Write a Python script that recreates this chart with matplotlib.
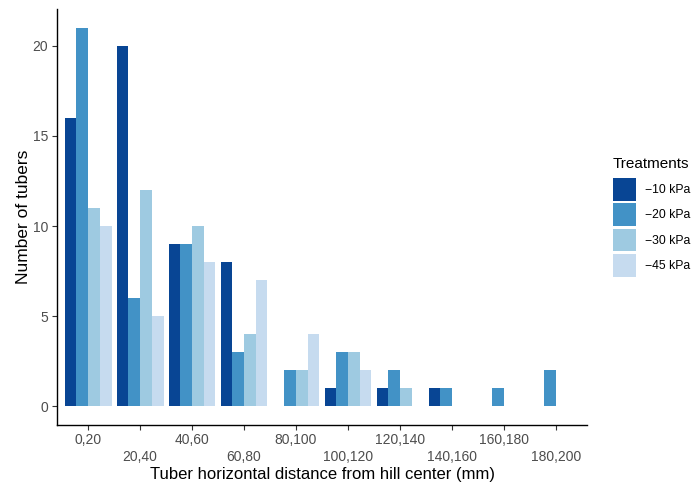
import numpy as np
import matplotlib
matplotlib.use("Agg")
import matplotlib.pyplot as plt
from matplotlib.patches import Patch

plt.rcParams["font.family"] = ["Liberation Sans", "DejaVu Sans"]

# Conteo de tubérculos por clase de distancia y tratamiento
clases = ["0,20", "20,40", "40,60", "60,80", "80,100",
          "100,120", "120,140", "140,160", "160,180", "180,200"]
tratamientos = ["\u221210 kPa", "\u221220 kPa", "\u221230 kPa", "\u221245 kPa"]
kpa_10 = [16, 20, 9, 8, 0, 1, 1, 1, 0, 0]
kpa_20 = [21, 6, 9, 3, 2, 3, 2, 1, 1, 2]
kpa_30 = [11, 12, 10, 4, 2, 3, 1, 0, 0, 0]
kpa_45 = [10, 5, 8, 7, 4, 2, 0, 0, 0, 0]
colores = ["#084594", "#4292c6", "#9ecae1", "#c6dbef"]

fig = plt.figure(figsize=(6.98, 4.83), dpi=100)
ax = fig.add_axes([57 / 698, 58 / 483, 530 / 698, 416 / 483])

x = np.arange(1, len(clases) + 1)
ancho = 0.9 / 4
series = [kpa_10, kpa_20, kpa_30, kpa_45]
for k, (vals, col) in enumerate(zip(series, colores)):
    ax.bar(x - 0.45 + ancho * (k + 0.5), vals, width=ancho, color=col,
           linewidth=0)

ax.set_xlim(0.4, 10.6)
ax.set_ylim(-1.05, 22.05)
ax.set_yticks([0, 5, 10, 15, 20])

# etiquetas del eje x en dos filas alternadas
ax.set_xticks(x[::2])
ax.set_xticklabels(clases[::2])
ax.set_xticks(x[1::2], minor=True)
ax.set_xticklabels(clases[1::2], minor=True)

for s in ["top", "right"]:
    ax.spines[s].set_visible(False)
for s in ["left", "bottom"]:
    ax.spines[s].set_linewidth(1.0)
    ax.spines[s].set_color("black")

ax.tick_params(axis="both", which="both", length=3.8, width=0.8,
               color="#333333", labelcolor="#4D4D4D", labelsize=10)
ax.tick_params(axis="x", which="major", pad=2.2)
ax.tick_params(axis="x", which="minor", pad=14.0)
ax.tick_params(axis="y", pad=2.5)

ax.set_xlabel("Tuber horizontal distance from hill center (mm)",
              fontsize=12, labelpad=2)
ax.set_ylabel("Number of tubers", fontsize=12.5, labelpad=1.5)

# leyenda: título aparte y cuadros de color
fig.text(613 / 698, 1 - 168 / 483, "Treatments", fontsize=11,
         ha="left", va="baseline")
handles = [Patch(facecolor=c, edgecolor="none") for c in colores]
leg = fig.legend(handles, tratamientos,
                 loc="upper left", bbox_to_anchor=(613 / 698, 1 - 178 / 483),
                 frameon=False, fontsize=8.8,
                 handlelength=1.9, handleheight=2.5, labelspacing=0.2,
                 handletextpad=0.7, borderpad=0, borderaxespad=0)

fig.savefig("out.png", dpi=100)
